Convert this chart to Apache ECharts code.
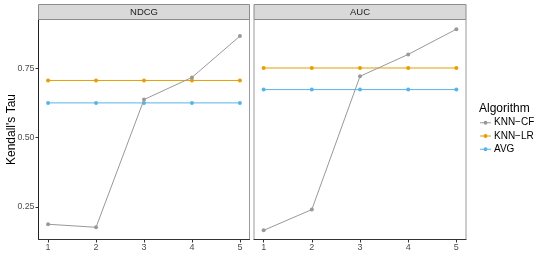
<!DOCTYPE html>
<html>
<head>
<meta charset="utf-8">
<script src="https://cdn.jsdelivr.net/npm/echarts@6/dist/echarts.min.js"></script>
<style>html,body{margin:0;padding:0;background:#fff}#c{width:538px;height:254px}</style>
</head>
<body>
<div id="c"></div>
<script>
var panels = ['NDCG', 'AUC'];
var xValues = [1, 2, 3, 4, 5];
var yTicks = [0.25, 0.5, 0.75];
var algorithms = ['KNN\u2212CF', 'KNN\u2212LR', 'AVG'];
var colors = ['#999999', '#E69F00', '#56B4E9'];
var ndcgKnnCf = [0.187, 0.176, 0.637, 0.717, 0.866];
var ndcgKnnLr = [0.706, 0.706, 0.706, 0.706, 0.706];
var ndcgAvg = [0.625, 0.625, 0.625, 0.625, 0.625];
var aucKnnCf = [0.165, 0.240, 0.721, 0.800, 0.891];
var aucKnnLr = [0.751, 0.751, 0.751, 0.751, 0.751];
var aucAvg = [0.673, 0.673, 0.673, 0.673, 0.673];
var panelData = [[ndcgKnnCf, ndcgKnnLr, ndcgAvg], [aucKnnCf, aucKnnLr, aucAvg]];

var FONT = 'Liberation Sans';
var grids = [
  {left: 38.5, top: 19.5, width: 211, height: 220},
  {left: 254, top: 19.5, width: 212, height: 220}
];
var option = {
  backgroundColor: '#fff',
  animation: false,
  textStyle: {fontFamily: FONT},
  grid: grids.map(function (g) {
    return Object.assign({show: true, borderColor: '#9a9a9a', borderWidth: 1, backgroundColor: 'transparent', containLabel: false, outerBoundsMode: 'none'}, g);
  }),
  xAxis: [0, 1].map(function (i) {
    return {
      type: 'value', gridIndex: i, min: 0.8, max: 5.2,
      splitLine: {show: false},
      axisLine: {show: true, lineStyle: {color: '#333', width: 1}},
      axisTick: {show: true, length: 3, lineStyle: {color: '#333'}, customValues: xValues},
      axisLabel: {show: true, color: '#4d4d4d', fontSize: 9, margin: 4, customValues: xValues, formatter: function (v) { return String(v); }}
    };
  }),
  yAxis: [0, 1].map(function (i) {
    return {
      type: 'value', gridIndex: i, min: 0.132, max: 0.926,
      name: i === 0 ? "Kendall's Tau" : '',
      nameLocation: 'middle', nameGap: 21, nameRotate: 90, nameMoveOverlap: false,
      nameTextStyle: {color: '#000', fontSize: 12, fontFamily: FONT},
      splitLine: {show: false},
      axisLine: {show: i === 0, lineStyle: {color: '#222', width: 1}},
      axisTick: {show: i === 0, length: 3, lineStyle: {color: '#333'}, customValues: yTicks},
      axisLabel: {show: i === 0, color: '#4d4d4d', fontSize: 8.8, margin: 4, customValues: yTicks, formatter: function (v) { return v.toFixed(2); }}
    };
  }),
  legend: {
    left: 480, top: 116.7, orient: 'vertical', padding: 0,
    itemWidth: 11, itemHeight: 4, itemGap: 1.3,
    icon: 'path://M0,2 L11,2 L11,3 L0,3 Z M7.5,2.5 A2,2 0 1 1 3.5,2.5 A2,2 0 1 1 7.5,2.5 Z',
    textStyle: {fontSize: 10, lineHeight: 12, color: '#000', fontFamily: FONT, padding: [0, 0, 0, -2]},
    data: algorithms
  },
  graphic: [],
  series: []
};
panels.forEach(function (p, pi) {
  algorithms.forEach(function (a, ai) {
    option.series.push({
      name: a, type: 'line', xAxisIndex: pi, yAxisIndex: pi,
      data: xValues.map(function (x, k) { return [x, panelData[pi][ai][k]]; }),
      symbol: 'circle', symbolSize: 4,
      lineStyle: {color: colors[ai], width: 1},
      itemStyle: {color: colors[ai]},
      z: 3 - ai
    });
  });
  var g = grids[pi];
  option.graphic.push({
    type: 'rect', shape: {x: g.left, y: 4.5, width: g.width, height: 15},
    style: {fill: '#d9d9d9', stroke: '#8c8c8c', lineWidth: 1}, z: 10
  });
  option.graphic.push({
    type: 'text', x: g.left + g.width / 2, y: 12,
    style: {text: p, fill: '#1a1a1a', fontSize: 9.5, fontFamily: FONT, align: 'center', verticalAlign: 'middle'}, z: 11
  });
});
option.graphic.push({
  type: 'text', x: 479, y: 108.3,
  style: {text: 'Algorithm', fill: '#000', fontSize: 12, fontFamily: FONT, align: 'left', verticalAlign: 'middle'}
});
var chart = echarts.init(document.getElementById('c'), null, {renderer: 'canvas'});
chart.setOption(option);
</script>
</body>
</html>
